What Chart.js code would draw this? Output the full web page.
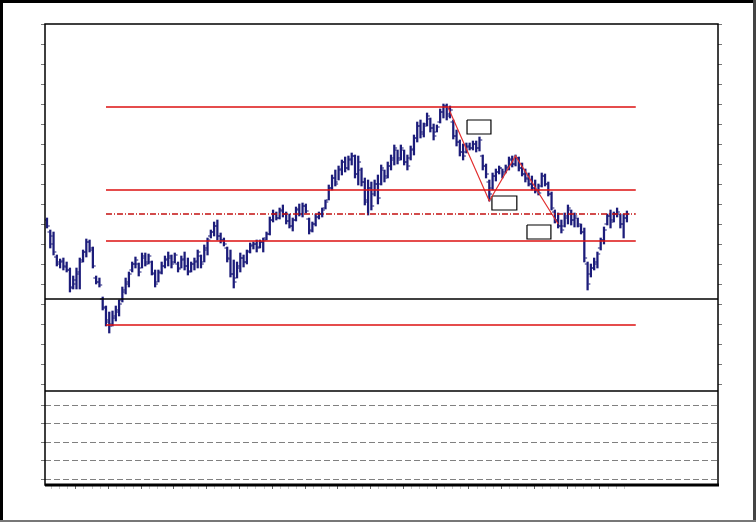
<!DOCTYPE html>
<html lang="en">
<head>
<meta charset="UTF-8">
<title>Price chart</title>
<script src="https://cdn.jsdelivr.net/npm/chart.js"></script>
<style>
    body { margin: 0; background: #fff; }
    #wrap { width: 756px; height: 522px; position: relative; }
</style>
</head>
<body>
<div id="wrap"><canvas id="priceChart"></canvas></div>
<script>
// daily OHLC bars, oldest first
const opens = [
    204,192,188,167,160,162,158,154,137,140, 150,164,172,182,174,146,142,125,116,104,
    100,106,112,124,132,140,154,160,160,156, 166,162,162,150,142,152,158,164,166,162,
    160,156,164,158,153,160,162,168,162,174, 188,192,198,188,184,176,166,150,146,156,
    166,162,173,178,180,177,182,186,190,204, 210,206,214,210,203,198,204,214,210,218,
    205,194,200,207,210,216,224,236,246,242, 254,262,256,264,268,250,254,242,222,236,
    230,240,240,254,248,258,264,274,266,274, 262,266,274,286,298,292,300,305,296,292,
    302,312,318,310,302,288,282,272,272,277, 276,280,276,268,258,242,236,248,252,256,
    252,256,264,260,266,256,250,246,240,236, 234,238,248,240,230,212,204,198,198,206,
    214,204,206,198,192,160,150,156,160,176, 184,200,208,204,210,210,200,206
];
const highs = [
    206,194,192,169,165,166,162,156,148,156, 166,174,185,184,177,148,146,127,118,112,
    113,118,124,137,146,152,162,167,161,171, 171,170,163,154,154,162,168,172,169,171,
    162,168,172,166,162,166,174,169,179,186, 194,202,204,191,186,177,174,164,162,171,
    169,174,181,182,184,184,186,192,207,214, 212,216,219,212,210,206,217,220,221,220,
    206,202,210,212,216,224,239,249,254,258, 264,267,268,271,269,268,256,246,244,242,
    244,249,259,254,262,269,279,274,279,274, 269,278,289,302,304,301,311,306,300,299,
    315,320,320,318,304,294,284,280,281,281, 283,283,287,269,260,244,251,255,258,255,
    259,267,268,269,267,261,255,251,248,244, 240,251,250,242,232,214,211,204,211,219,
    214,211,206,200,196,162,160,166,172,186, 197,210,214,212,216,210,210,213
];
const lows = [
    196,176,169,158,156,154,152,132,135,135, 135,162,167,172,156,140,137,114,98,91,
    98,103,108,122,130,137,152,156,148,156, 158,160,149,137,142,150,156,158,156,161,
    152,156,154,149,152,154,156,156,162,169, 186,188,184,181,178,162,147,136,146,152,
    157,160,171,175,172,176,172,184,189,202, 204,205,207,200,196,193,203,208,207,211,
    190,192,198,205,207,215,224,234,238,244, 249,252,254,259,246,239,238,219,209,214,
    228,220,239,242,246,254,259,260,264,259, 254,264,269,282,286,287,298,292,284,292,
    301,306,304,306,285,278,268,264,271,274, 274,272,273,254,246,223,234,243,250,246,
    251,254,257,258,253,248,242,238,234,231, 229,237,238,228,214,201,196,191,197,200,
    199,197,197,190,162,134,147,154,156,174, 180,199,196,202,207,196,186,202
];
const closes = [
    198,180,172,162,163,157,154,136,144,152, 162,172,182,176,158,142,139,117,102,98,
    108,114,120,134,142,150,160,164,152,168, 160,168,151,140,151,158,165,168,160,169,
    155,165,158,152,160,163,172,160,176,184, 192,198,188,184,180,165,150,142,158,166,
    162,172,179,180,176,182,184,190,204,210, 206,213,210,203,198,204,215,210,218,213,
    193,200,207,210,214,222,236,246,240,255, 262,256,265,268,250,262,242,224,236,218,
    240,226,256,246,258,266,276,264,276,262, 258,275,286,298,290,298,308,296,288,297,
    312,318,308,314,288,282,272,268,278,276, 280,276,284,258,250,230,248,252,256,250,
    257,265,260,266,256,250,245,240,236,233, 231,248,240,230,216,204,198,194,208,216,
    204,208,200,192,166,140,156,162,170,184, 194,208,202,210,212,200,206,210
];

// horizontal levels
const levelFrom = 18;
const levelTo = 179.7;
const redLevels = [317, 234, 183, 99];
const midLevel = 210;
const baseLevel = 125;

// zigzag pivots (bar index, price)
const zigX = [122.5, 135, 143, 156];
const zigY = [316, 223, 268, 200];

// empty label boxes: [from bar, to bar, top price, bottom price]
const boxes = [
    [128.2, 135.5, 304, 290],
    [135.8, 143.4, 228, 214],
    [146.5, 153.8, 199, 185]
];

const barColor = '#1c1c7a';
const red = '#dd1111';

function hline(y, x0, x1, color, width, dash) {
    return {
        type: 'line',
        data: [{x: x0, y: y}, {x: x1, y: y}],
        borderColor: color,
        borderWidth: width,
        borderDash: dash || [],
        pointRadius: 0,
        yAxisID: 'y'
    };
}

const datasets = [];

// levels first, bars drawn on top
redLevels.forEach(v => datasets.push(hline(v, levelFrom, levelTo, red, 1.5)));
datasets.push(hline(midLevel, levelFrom, levelTo, '#c41010', 1.5, [6, 2, 1, 2]));
datasets.push(hline(baseLevel, -0.61, 204.8, '#000', 1.5));

// zigzag
datasets.push({
    type: 'line',
    data: zigX.map((x, i) => ({x: x, y: zigY[i]})),
    borderColor: '#e23030',
    borderWidth: 1.2,
    pointRadius: 0,
    tension: 0,
    yAxisID: 'y'
});

// boxes
boxes.forEach(b => {
    datasets.push({
        type: 'line',
        data: [{x: b[0], y: b[2]}, {x: b[1], y: b[2]}, {x: b[1], y: b[3]}, {x: b[0], y: b[3]}, {x: b[0], y: b[2]}],
        borderColor: '#000',
        borderWidth: 1.2,
        pointRadius: 0,
        tension: 0,
        yAxisID: 'y'
    });
});

// high-low
datasets.push({
    type: 'bar',
    data: highs.map((h, i) => ({x: i, y: [lows[i], h]})),
    backgroundColor: barColor,
    borderWidth: 0,
    barThickness: 1.6,
    yAxisID: 'y'
});
// open ticks (left), close ticks (right)
datasets.push({
    type: 'scatter',
    data: opens.map((o, i) => ({x: i - 0.55, y: o})),
    pointStyle: 'line',
    pointRadius: 1,
    borderColor: barColor,
    borderWidth: 1,
    yAxisID: 'y'
});
datasets.push({
    type: 'scatter',
    data: closes.map((c, i) => ({x: i + 0.55, y: c})),
    pointStyle: 'line',
    pointRadius: 1,
    borderColor: barColor,
    borderWidth: 1,
    yAxisID: 'y'
});

// chart frame, panel separator, window border
const framePlugin = {
    id: 'frame',
    afterDraw(chart) {
        const {ctx, chartArea: a, scales} = chart;
        ctx.save();
        ctx.strokeStyle = '#000';
        ctx.lineWidth = 1.5;
        ctx.strokeRect(a.left, a.top, a.right - a.left, a.bottom - a.top);
        const sep = Math.min(scales.y.bottom, scales.y2.top);
        ctx.beginPath();
        ctx.moveTo(a.left, sep);
        ctx.lineTo(a.right, sep);
        ctx.stroke();
        ctx.lineWidth = 3;
        ctx.beginPath();
        ctx.moveTo(a.left, a.bottom);
        ctx.lineTo(a.right + 1, a.bottom);
        ctx.stroke();
        const w = chart.width, h = chart.height;
        ctx.fillStyle = '#000';
        ctx.fillRect(0, 0, w, 3);
        ctx.fillRect(0, 0, 3, h);
        ctx.fillStyle = '#444';
        ctx.fillRect(w - 3, 0, 3, h);
        ctx.fillStyle = '#777';
        ctx.fillRect(0, h - 2, w, 2);
        ctx.restore();
    }
};

const tickGrid = {drawOnChartArea: false, tickLength: 4, tickColor: '#777', lineWidth: 1};

new Chart(document.getElementById('priceChart'), {
    type: 'bar',
    data: {datasets: datasets},
    plugins: [framePlugin],
    options: {
        responsive: true,
        maintainAspectRatio: false,
        animation: false,
        layout: {padding: {left: 41, right: 34, top: 24, bottom: 33}},
        plugins: {legend: {display: false}, tooltip: {enabled: false}},
        scales: {
            x: {
                type: 'linear',
                min: -0.61,
                max: 204.8,
                offset: false,
                ticks: {display: false, stepSize: 2.5, includeBounds: false},
                afterBuildTicks: axis => { axis.ticks = axis.ticks.filter(t => t.value <= 176); },
                grid: {
                    drawOnChartArea: false,
                    tickLength: 4,
                    tickColor: ctx => (ctx.tick && ctx.tick.value % 10 === 0) ? '#666' : '#c8c8c8'
                },
                border: {display: false}
            },
            y2: {
                type: 'linear',
                position: 'left',
                stack: 'left',
                stackWeight: 94,
                min: -0.32,
                max: 4.76,
                ticks: {display: false, stepSize: 1, includeBounds: false},
                grid: {drawOnChartArea: true, tickLength: 4, color: '#808080', tickColor: '#777', lineWidth: 1},
                border: {display: false, dash: [6, 3]}
            },
            y: {
                type: 'linear',
                position: 'left',
                stack: 'left',
                stackWeight: 367,
                min: 33,
                max: 400,
                ticks: {display: false, stepSize: 20, includeBounds: false},
                grid: tickGrid,
                border: {display: false}
            },
            yR: {
                type: 'linear',
                position: 'right',
                stack: 'right',
                stackWeight: 367,
                min: 33,
                max: 400,
                ticks: {display: false, stepSize: 20, includeBounds: false},
                grid: tickGrid,
                border: {display: false}
            },
            yR2: {
                type: 'linear',
                position: 'right',
                stack: 'right',
                stackWeight: 94,
                min: -0.32,
                max: 4.76,
                ticks: {display: false, stepSize: 1, includeBounds: false},
                grid: {drawOnChartArea: false, tickLength: 4, tickColor: 'rgba(0,0,0,0)'},
                border: {display: false}
            }
        }
    }
});
</script>
</body>
</html>
